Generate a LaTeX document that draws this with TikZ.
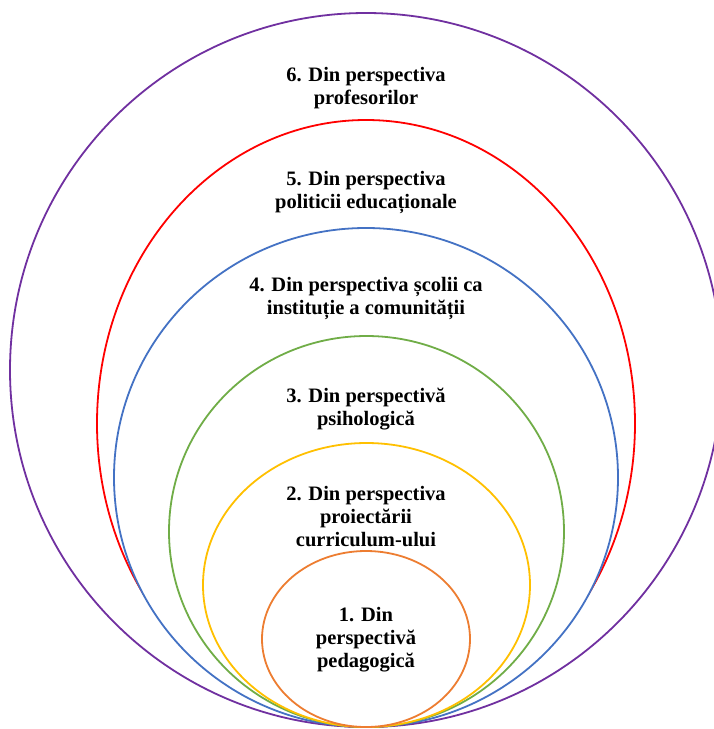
\documentclass[tikz,border=0pt]{standalone}
\usepackage{fontspec}
\setmainfont{Liberation Serif}
\newfontfamily\ringfont{Liberation Serif}[BoldFont={Liberation Serif Bold}]
\definecolor{ringpurple}{HTML}{7030A0}
\definecolor{ringred}{HTML}{FF0000}
\definecolor{ringblue}{HTML}{4472C4}
\definecolor{ringgreen}{HTML}{70AD47}
\definecolor{ringyellow}{HTML}{FFC000}
\definecolor{ringorange}{HTML}{ED7D31}
\tikzset{
  ring/.style={line width=1.8pt, fill=white},
  ringtext/.style={align=center, inner sep=0pt,
    font=\ringfont\fontsize{20.5}{23}\selectfont\bfseries}
}
\begin{document}
\begin{tikzpicture}[x=1pt, y=-1pt]
\clip (0,0) rectangle (714,729);
\fill[white] (0,0) rectangle (714,729);
% nested ellipses, all touching at the bottom, drawn from outside in
\draw[ring, draw=ringpurple] (366,370)   ellipse [x radius=356pt, y radius=357pt];
\draw[ring, draw=ringred]    (366,423.5) ellipse [x radius=269pt, y radius=303.5pt];
\draw[ring, draw=ringblue]   (366,477.5) ellipse [x radius=252pt, y radius=249.5pt];
\draw[ring, draw=ringgreen]  (366.5,531.5) ellipse [x radius=197.5pt, y radius=195.5pt];
\draw[ring, draw=ringyellow] (366.5,585) ellipse [x radius=163.5pt, y radius=142pt];
\draw[ring, draw=ringorange] (366,639)   ellipse [x radius=104pt, y radius=88pt];
% labels
\node[ringtext] (t6) at (366,88)  {6. Din perspectiva\\profesorilor};
\node[ringtext] (t5) at (366,193) {5. Din perspectiva\\politicii educaționale};
\node[ringtext] (t4) at (366,298) {4. Din perspectiva școlii ca\\instituție a comunității};
\node[ringtext] (t3) at (366,409) {3. Din perspectivă\\psihologică};
\node[ringtext] (t2) at (366,517) {2. Din perspectiva\\proiectării\\curriculum-ului};
\node[ringtext] (t1) at (366,640) {1. Din\\perspectivă\\pedagogică};
\end{tikzpicture}
\end{document}
